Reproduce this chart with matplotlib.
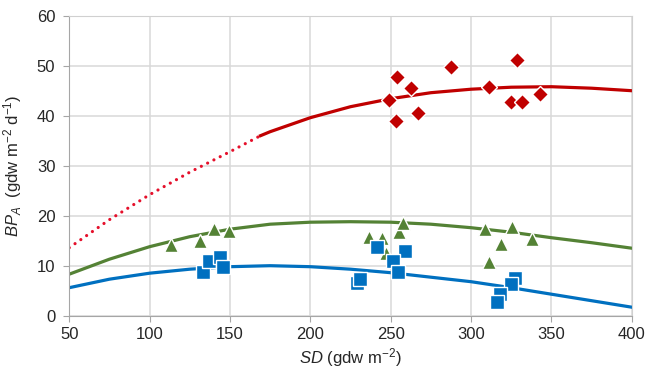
import matplotlib.pyplot as plt

plt.rcParams['font.family'] = ['Liberation Sans', 'DejaVu Sans']
plt.rcParams['mathtext.fontset'] = 'custom'
plt.rcParams['mathtext.rm'] = 'Liberation Sans'
plt.rcParams['mathtext.it'] = 'Liberation Sans:italic'
plt.rcParams['mathtext.default'] = 'regular'

# Fitted curves, values
curve_sd = [50, 75, 100, 125, 150, 175, 200, 225, 250, 275, 300, 325, 350, 375, 400]
blue_curve = [5.6, 7.3, 8.5, 9.3, 9.8, 10.0, 9.8, 9.3, 8.6, 7.7, 6.8, 5.6, 4.3, 3.0, 1.7]
green_curve = [8.3, 11.3, 13.8, 15.8, 17.3, 18.3, 18.7, 18.8, 18.7, 18.3, 17.6, 16.7, 15.6, 14.6, 13.5]

red_dot_sd = [50, 75, 100, 125, 150, 169]
red_dot = [13.6, 19.2, 24.2, 28.7, 32.8, 36.0]
red_fit_sd = [169, 175, 200, 225, 250, 275, 300, 325, 350, 375, 400]
red_fit = [36.0, 36.8, 39.6, 41.8, 43.4, 44.6, 45.3, 45.7, 45.8, 45.5, 45.0]

# Measured points
red_sd = [254.1, 262.6, 248.8, 253.1, 266.8, 287.5, 311.4, 328.4, 324.7, 331.7, 342.9]
red_bp = [47.7, 45.5, 43.1, 38.9, 40.5, 49.8, 45.8, 51.1, 42.8, 42.7, 44.3]

green_sd = [113.3, 131.2, 140.2, 149.4, 236.5, 244.4, 247.1, 255.2, 257.7,
            308.9, 325.5, 318.6, 311.0, 337.9]
green_bp = [14.2, 15.0, 17.3, 17.0, 15.8, 15.5, 12.5, 16.7, 18.6,
            17.3, 17.8, 14.3, 10.8, 15.3]

blue_sd = [133.4, 137.1, 143.8, 145.8, 229.2, 230.9, 241.7, 258.9, 251.2, 254.7,
           327.4, 324.7, 318.0, 316.3]
blue_bp = [8.8, 10.9, 11.8, 9.8, 6.6, 7.3, 13.8, 12.9, 10.9, 8.8,
           7.5, 6.3, 4.3, 2.7]

fig = plt.figure(figsize=(6.47, 3.76), dpi=100)
ax = fig.add_axes([0.107, 0.1604, 0.8694, 0.7978])

ax.plot(red_dot_sd, red_dot, color='#e5102b', lw=2.3, dashes=(0.01, 2.2),
        dash_capstyle='round', zorder=2)
ax.plot(red_fit_sd, red_fit, color='#c00000', lw=2.3, zorder=2)
ax.plot(curve_sd, green_curve, color='#548235', lw=2.3, zorder=2)
ax.plot(curve_sd, blue_curve, color='#0070c0', lw=2.3, zorder=2)

ax.plot(red_sd, red_bp, 'D', ms=8.5, mfc='#c00000', mec='white', mew=1, zorder=3)
ax.plot(green_sd, green_bp, '^', ms=10.5, mfc='#548235', mec='white', mew=1, zorder=4)
ax.plot(blue_sd, blue_bp, 's', ms=9.5, mfc='#0070c0', mec='white', mew=1, zorder=5)

ax.set_xlim(50, 400)
ax.set_ylim(0, 60)
ax.set_xticks(range(50, 401, 50))
ax.set_yticks(range(0, 61, 10))
ax.grid(color='#d9d9d9', lw=1.1)
ax.set_axisbelow(True)
ax.tick_params(length=4, color='#a6a6a6', labelsize=12, labelcolor='#262626', pad=4)
ax.tick_params(axis='y', pad=6)
for side in ['top', 'right']:
    ax.spines[side].set_color('#d0d0d0')
for side in ['left', 'bottom']:
    ax.spines[side].set_color('#a6a6a6')

ax.set_xlabel(r'$\mathit{SD}$ (gdw m$^{-2}$)', fontsize=12, color='#262626', labelpad=3)
ax.set_ylabel(r'$\mathit{BP}_{\mathit{A}}$  (gdw m$^{-2}$ d$^{-1}$)', fontsize=12,
              color='#262626', labelpad=9)

fig.savefig('out.png', dpi=100)
